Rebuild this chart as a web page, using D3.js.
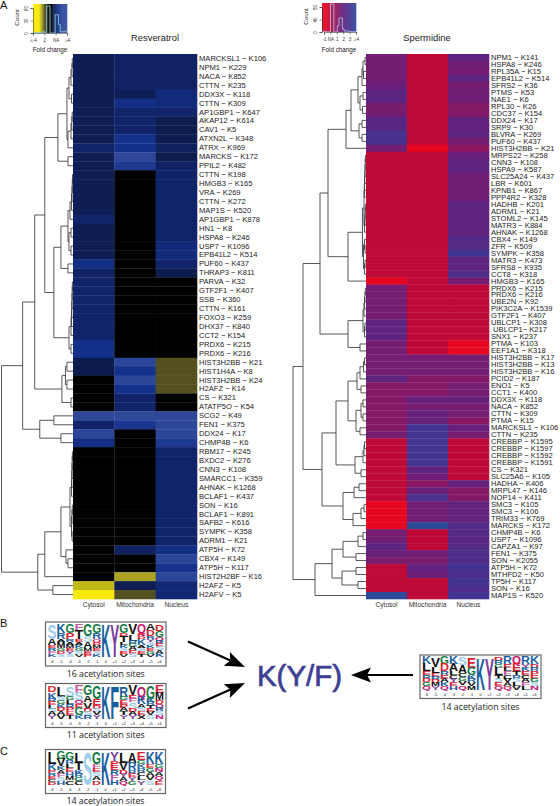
<!DOCTYPE html>
<html><head><meta charset="utf-8">
<script src="https://cdn.jsdelivr.net/npm/d3@7"></script>
<style>html,body{margin:0;padding:0;background:#fff}svg{display:block}text{font-family:"Liberation Sans",Arial,sans-serif}</style>
</head><body><div id="c"></div>
<script>
const columns=["Cytosol","Mitochondria","Nucleus"];
// ---- Resveratrol
const resLabels=["MARCKSL1 − K106","NPM1 − K229","NACA − K852","CTTN − K235","DDX3X − K118","CTTN − K309","AP1GBP1 − K647","AKAP12 − K614","CAV1 − K5","ATXN2L − K348","ATRX − K969","MARCKS − K172","PPIL2 − K482","CTTN − K198","HMGB3 − K165","VRA − K269","CTTN − K272","MAP1S − K520","AP1GBP1 − K878","HN1 − K8","HSPA8 − K246","USP7 − K1096","EPB41L2 − K514","PUF60 − K437","THRAP3 − K811","PARVA − K32","GTF2F1 − K407","SSB − K360","CTTN − K161","FOXO3 − K259","DHX37 − K840","CCT2 − K154","PRDX6 − K215","PRDX6 − K216","HIST3H2BB − K21","HIST1H4A − K8","HIST3H2BB − K24","H2AFZ − K14","CS − K321","ATATP5O − K54","SCG2 − K49","FEN1 − K375","DDX24 − K17","CHMP4B − K6","RBM17 − K245","BXDC2 − K276","CNN3 − K108","SMARCC1 − K359","AHNAK − K1268","BCLAF1 − K437","SON − K16","BCLAF1 − K891","SAFB2 − K616","SYMPK − K358","ADRM1 − K21","ATP5H − K72","CBX4 − K149","ATP5H − K117","HIST2H2BF − K16","H2AFZ − K5","H2AFV − K5"];
const resCytosol=[1.3,1.3,1.3,1.3,1.3,1.3,1.3,1.3,1.3,1.3,1.7,1.3,1.3,1.3,1.3,1.3,1.3,1.3,1.7,1.3,1.3,1.3,1.3,2.2,1.6,1.7,1.7,1.7,1.7,1.7,1.7,1.7,2.3,2.3,1.2,1.2,0,0,0,0,3.3,1.7,3,2.2,0,0,0,0,0,0,0,0,0,0,0,0,0,0,0,-3.3,-4];
const resMito=[1.6,1.6,1.6,1.6,1.3,2.2,1.7,1.7,1.7,2.3,2.3,3.2,2.6,0,0,0,0,0,0,0,0,0,0,0,0,0,0,0,0,0,0,0,0,0,3,2.3,3,2.3,1.7,1.7,3.3,2.5,0,0,0,0,0,0,0,0,0,0,0,0,0,1.6,0,0,-3,1.3,-2];
const resNucleus=[1.6,1.6,1.6,1.6,2,2,1.7,1.2,1.2,1.2,1.5,1.2,1.6,1.7,1.7,1.7,1.7,1.7,1.7,1.7,1.7,2,2,1.7,1.2,0,0,0,0,0,0,0,0,0,-2,-2,-2,-2,0,0,3.3,3.3,3,2.6,1.7,1.7,1.7,1.7,1.7,1.7,1.7,1.7,1.7,1.7,1.7,2.2,3,2.4,3,1.9,1.9];
// dendrogram: [merge height, left, right]; 0 is a leaf, in row order
const resTree=[71,[50,[38,[28,[15,[6,[4,[2,[1,[.7,0,0],0],0],[1.5,0,0]],[5,[2,[1.2,[.8,0,0],0],0],0]],[5,0,0]],[19,[12,[5,[3,[1.5,[1,[.7,[.5,0,0],0],0],0],0],[4,[2,0,0],[2,0,0]]],[5,0,0]],[4,[2,[1.5,[1.2,[1,[.8,[.6,0,0],0],0],0],0],0],[2,0,0]]]],[11,[7.5,[6,0,0],[6,0,0]],[2,0,0]]],[33,[19,0,0],[12,0,0]]],[35,[28,[12,[3,[1.5,[1.2,[1,[.8,[.6,0,0],0],0],0],0],[1.5,[1,[.7,0,0],0],[.9,0,0]]],[7,0,[5,0,0]]],0],[20,0,0]]];
const resHist=[1,1,1,1,1,1,4,1,65,65,0,0,0,44,44,20,3,3,3,5];
const resTicks=["≤-4","2","NA","2","≥4"];
const resCountTicks=[0,30,60];
// ---- Spermidine
const speLabels=["NPM1 − K141","HSPA8 − K246","RPL35A − K15","EPB41L2 − K514","SFRS2 − K36","PTMS − K53","NAE1 − K6","RPL30 − K26","CDC37 − K154","DDX24 − K17","SRP9 − K30","BLVRA − K269","PUF60 − K437","HIST3H2BB − K21","MRPS22 − K258","CNN3 − K108","HSPA9 − K587","SLC25A24 − K437","LBR − K601","KPNB1 − K867","PPP4R2 − K328","HADHB − K201","ADRM1 − K21","STOML2 − K145","MATR3 − K884","AHNAK − K1268","CBX4 − K149","ZFR − K509","SYMPK − K358","MATR3 − K473","SFRS8 − K935","CCT8 − K318","HMGB3 − K165","PRDX6 − K215","PRDX6 − K216","UBE2N − K92","PIK3C2A − K1539","GTF2F1 − K407","UBLCP1 − K308","\u00a0UBLCP1− K217","SNX1 − K237","PTMA − K103","EEF1A1 − K318","HIST3H2BB − K17","HIST3H2BB − K13","HIST3H2BB − K16","PCID2 − K187","ENO1 − K5","CCT1 − K400","DDX3X − K118","NACA − K852","CTTN − K309","PTMA − K15","MARCKSL1 − K106","CTTN − K235","CREBBP − K1595","CREBBP − K1597","CREBBP − K1592","CREBBP − K1591","CS − K321","SLC25A6 − K105","HADHA − K406","MRPL47 − K146","NOP14 − K411","SMC3 − K105","SMC3 − K106","TRIM33 − K769","MARCKS − K172","CHMP4B − K6","USP7 − K1096","CAPZA1 − K97","FEN1 − K375","SON − K2055","ATP5H − K72","MTHFD2 − K50","TP5H − K117","SON − K16","MAP1S − K520"];
const speCytosol=[1.5,1.5,1.5,1.5,1.7,2.1,2.1,1.4,1.5,2.2,2.2,2.8,2.8,1.5,0,0,0,0,0,0,0,0,0,0,0,0,0,0,0,0,0,0,-1,1.5,1.5,1.5,1.5,1.5,2,2,2,1.5,1.5,1.5,1.5,1.5,2,1.2,1.2,1.2,1.2,1.2,1.2,1.2,1.5,0,0,0,0,0,0,0,0,0,-1,-1,-1,-1,1.5,1.6,2.1,1.8,1.4,0,0,0,0,4];
const speMito=[0,0,0,0,0,0,0,0,0,0,0,0,0,-1,0,0,0,0,0,0,0,0,0,0,0,0,0,0,0,0,0,0,0,0,0,0,0,0,0,0,0,0,0,1.5,1.5,1.5,1.2,1.2,1.2,1.8,1.5,1.8,1.8,3,3,3,3,3,3,2,1.6,1.1,1.8,2.8,1.6,1.6,1.6,4,0,0,0,1.6,1.4,1.9,1.7,0,0,0];
const speNucleus=[2,1.6,1.5,2,1.5,1.6,1.6,1.2,1.2,1.9,1.9,2,1.5,1,1.7,2,2,1.6,1.6,1.6,1.6,2,2,2,2,2,2.4,2.4,3,2,2,2.6,1.5,0,0,0,0,0,0,0,0,-1,-1,1.5,1.5,1.5,1.2,1.5,1.5,1.8,1.5,1.5,1.1,1.8,1.5,0,0,0,0,0,0,1.8,1.2,1.2,1.9,1.9,1.9,2.4,2.4,2.2,2.4,2.6,2.6,3,2.7,3,2.7,3];
const speTree=[73,[63,[46,[38,[20,[15,[8,[4,[3,[1,0,0],[2.5,0,0]],0],[6,[3,0,0],[3.5,0,0]]],[7,[4,0,0],[4,0,0]]],0],[18,[3.5,[2,[1.7,[1.5,[1.2,[1,[.8,[.6,0,0],0],0],0],0],0],[1.5,[1,[.8,[.6,0,0],0],0],0]],[2.5,[1.5,0,[1,0,0]],[1.5,[1,0,0],0]]],0]],[18,[3,[2,[1.5,[1,[.7,0,0],0],0],0],[1.5,[1,0,0],0]],[6,0,0]]],[44,[30,[18,[9,[6,[2.5,[1.5,0,0],0],0],[5,0,0]],[10,[5,[3,0,0],[3,0,0]],[6,0,0]]],[11,[3,[2,[1.5,0,0],0],0],[5,0,0]]],[23,[12,[7,0,0],0],[13,[5,[2,0,0],0],0]]]],[51,[34,[23,[8,[3,0,0],0],[10,0,0]],[24,[10,0,0],[8,0,0]]],0]];
const speHist=[3,2,1,1,1,100,100,0,0,20,45,45,10,3,3,3,2,1,1,1];
const speTicks=["-1","NA","1","2","3","≥4"];
const speCountTicks=[0,40,80];
// ---- Sequence logos (letter + weight, top to bottom; f = blue F)
const logoB1=["S5 A2 E1 R1 F1 K1","K3 R2 A1 M2 G1 D1 S1","G3 P2 R1 A1 M1 E1 Y1 S1","F2 T3 E1 A1 K1 G1 S1 V1","G4 S2 A2 M1 E1 P1","G3 R2 Q1 D1 M1 E1 S1 K1","K1","Y1","G3 D1 T2 L1 K1 S1 E1 V1","V3 L2 R1 G1 A1 E1 S1","Q3 P1 D1 K2 A1 S1 E1 T1","A2 D2 R1 Y1 S1 K1 E1 G1 V1","D2 G2 Q1 R1 E1 S1 A1 K1"];
const logoB2=["D2 K2 R1 E1 L1 S1 A1 Y1","L3 S1 G1 K1 D1 A1 V1","S3 G1 L1 R1 P1 E1 T1","F2 S2 Q1 E1 G2 K1","G3 A2 V2 D1 S1 R1","G4 E2 D1 S1 V1 Y1","K1","f1","R3 G1 E1 P1 A1 T1 Y1","V3 E1 F1 S2 D1 A1 Y1","Q3 K2 A1 S1 E1 X1","G4 K1 R1 T1 E1 V1 S1","E2 M2 D1 Q1 R1 S1 N1"];
const logoC=["L4 K2 P1 R1 E1 C1 D1","G2 V2 K1 A1 F1 S1 H1","G2 R1 L1 E1 H1 M1 C1","L3 T2 K1 R1 G1 C1","S1","G3 F1 E1 S1 A1 D1","K1","Y2 P1 E1 R1 F1 H1","L3 V2 D1 Y1 A1 Q1","A3 R2 B1 E1 Y1 G1","E2 G1 K1 R1 C1 L1 Y1","K3 E1 G1 A1 V1 S1","K3 G1 N1 A1 Q1 E1"];
const logoR=["K2 L2 E1 R1 D1 G1 Q1","V3 L2 E1 R1 D1 M1 Y1","G2 D2 R1 E1 A1 K1 Q1","K2 A2 L1 C1 Y1 E1 H1","S2 A2 C1 G1 V1 Q1","E3 G2 K1 R1 V1 M1","K1","Y1","D1 R1 G1 L2 T1 S1 E1 Q1","R2 E1 L1 F1 C1 V1 A1 Q1","Q2 E2 T1 R1 S1 L1 V1","R2 Y1 K1 E1 C1 A1 F1 L1","K2 D1 R1 P1 E1 G1 S1 N1"];
const logoPositions=["-6","-5","-4","-3","-2","-1","0","+1","+2","+3","+4","+5","+6"];
const residueColors={K:"#1b5f9e",R:"#1b5f9e",H:"#1b5f9e",B:"#1b5f9e",f:"#1b5f9e",D:"#dc2230",E:"#dc2230",P:"#dc2230",G:"#117a42",S:"#9ccdec",T:"#111",Q:"#c8126e",N:"#c8126e",F:"#c65aa6",Y:"#7b3fa0",W:"#7b3fa0",A:"#111",V:"#111",L:"#111",I:"#111",M:"#111",C:"#111",X:"#111"};

const svg=d3.select("#c").append("svg").attr("width",560).attr("height",806).attr("viewBox","0 0 560 806");
svg.append("rect").attr("width",560).attr("height",806).attr("fill","#fff");
const yTop=54,yBottom=599;

function drawTree(tree,y,xh){
 const g=svg.append("g").attr("fill","none").attr("stroke","#3a3a3a").attr("stroke-width",.85);
 let i=0;
 (function walk(nd){
  if(nd===0){const p={x:xh(0),y:y(i)+y.bandwidth()/2};i++;return p;}
  const a=walk(nd[1]),b=walk(nd[2]),x=xh(nd[0]);
  g.append("path").attr("d",`M${a.x},${a.y}H${x}V${b.y}H${b.x}`);
  return {x:x,y:(a.y+b.y)/2};
 })(tree);
}
function heatmap(o){
 const y=d3.scaleBand().domain(d3.range(o.labels.length)).range([yTop,yBottom]);
 const x=d3.scaleBand().domain(columns).range([o.x0,o.x1]);
 o.series.forEach((vals,c)=>{
  svg.append("g").selectAll("rect").data(vals).join("rect")
   .attr("x",x(columns[c])).attr("width",x.bandwidth()+.3)
   .attr("y",(d,i)=>y(i)).attr("height",y.bandwidth()+.3)
   .attr("fill",d=>o.color(d));
 });
 const ax=svg.append("g").attr("transform",`translate(${o.x1-1},0)`)
   .call(d3.axisRight(y).tickSize(0).tickPadding(3).tickFormat(i=>o.labels[i]));
 ax.select(".domain").remove();
 ax.selectAll("text").attr("font-size",7.6).attr("fill","#222").style("font-family","'Liberation Sans'");
 const bx=svg.append("g").attr("transform",`translate(0,${yBottom})`)
   .call(d3.axisBottom(x).tickSize(0).tickPadding(3));
 bx.select(".domain").remove();
 bx.selectAll("text").attr("font-size",6.6).attr("fill","#333").style("font-family","'Liberation Sans'");
 svg.append("text").attr("x",o.titleX).attr("y",41).attr("text-anchor","middle").attr("font-size",9.4).attr("fill","#222").text(o.title);
 const xh=d3.scaleLinear().domain([0,o.treeMax]).range([o.x0,o.rootX]);
 drawTree(o.tree,y,xh);
}
function colorKey(o){
 const k=d3.scaleLinear().domain(o.fold).range([o.x0,o.x1]);
 const step=(o.fold[1]-o.fold[0])/68;
 svg.append("g").selectAll("rect").data(d3.range(o.fold[0],o.fold[1],step)).join("rect")
   .attr("x",d=>k(d)).attr("width",k(o.fold[0]+step)-k(o.fold[0])+.3).attr("y",o.y0).attr("height",o.y1-o.y0)
   .attr("fill",d=>o.color(o.keyValue(d)));
 const c=d3.scaleLinear().domain([0,o.countTicks[2]]).range([o.y1,o.y0+(o.y1-o.y0)*.14]);
 const bins=d3.scaleBand().domain(d3.range(o.hist.length)).range([o.x0,o.x1]);
 const pts=o.hist.map((v,i)=>[i,v]);pts.push([o.hist.length,o.hist[o.hist.length-1]]);
 const line2=d3.line().curve(d3.curveStepAfter).x(d=>d[0]===o.hist.length?o.x1:bins(d[0])).y(d=>c(Math.min(d[1],o.countTicks[2]*1.12)));
 svg.append("path").attr("d",line2(pts)).attr("fill","none").attr("stroke",o.histColor).attr("stroke-width",.9);
 const p=d3.scalePoint().domain(o.ticks).range([o.tx0,o.tx1]);
 const a=svg.append("g").attr("transform",`translate(0,${o.y1})`).call(d3.axisBottom(p).tickSize(2.5).tickPadding(3));
 a.select(".domain").attr("stroke","#222").attr("stroke-width",.5);
 a.selectAll("line").attr("stroke","#222").attr("stroke-width",.5);
 a.selectAll("text").attr("font-size",4.6).attr("fill","#333").style("font-family","'Liberation Sans'");
 const l=svg.append("g").attr("transform",`translate(${o.x0},0)`).call(d3.axisLeft(c).tickValues(o.countTicks).tickSize(2.5).tickPadding(1.5).tickFormat(d3.format("d")));
 l.select(".domain").attr("stroke","#222").attr("stroke-width",.5);
 l.selectAll("line").attr("stroke","#222").attr("stroke-width",.5);
 l.selectAll("text").attr("font-size",4.6).attr("fill","#333").style("font-family","'Liberation Sans'")
   .attr("x",null).attr("dy",null).attr("text-anchor","middle").attr("transform","translate(-5,0) rotate(-90)");
 svg.append("text").attr("transform",`translate(${o.x0-14.5},${(o.y0+o.y1)/2-1}) rotate(-90)`).attr("text-anchor","middle").attr("font-size",6.2).attr("fill","#222").text("Count");
 svg.append("text").attr("x",(o.x0+o.x1)/2).attr("y",52).attr("text-anchor","middle").attr("font-size",6.3).attr("fill","#222").text("Fold change");
}
const resColor=d3.scaleLinear().domain([-4,-3,-2,-.5,0,1.2,1.7,2.3,3,4]).range(["#f8ea06","#aaa222","#54501f","#0a0a05","#000","#0d1c4e","#11246a","#13308a","#2b4598","#354c9c"]).clamp(true);
const speColor=d3.scaleLinear().domain([-1,0,1,1.5,2,3,4]).range(["#e6061f","#bd0a38","#8e1660","#741d72","#5f2380","#443491","#2e4a9b"]).clamp(true);

heatmap({labels:resLabels,series:[resCytosol,resMito,resNucleus],x0:73,x1:197,color:resColor,title:"Resveratrol",titleX:155,tree:resTree,treeMax:71,rootX:1.5});
heatmap({labels:speLabels,series:[speCytosol,speMito,speNucleus],x0:366,x1:489,color:speColor,title:"Spermidine",titleX:427,tree:speTree,treeMax:73,rootX:293});
colorKey({x0:33,x1:67,y0:4,y1:33,fold:[-4,4],color:resColor,keyValue:d=>d<-.5?d*1.5:(d<.5?0:d*.9+.6),hist:resHist,histColor:"#7fc6d2",ticks:resTicks,tx0:33,tx1:67,countTicks:resCountTicks});
colorKey({x0:322,x1:356,y0:3,y1:32,fold:[-1.3,4],color:speColor,keyValue:d=>d,hist:speHist,histColor:"#a9b9df",ticks:speTicks,tx0:324,tx1:356,countTicks:speCountTicks});

[["A",0,9],["B",0,627],["C",0,755]].forEach(d=>svg.append("text").attr("x",d[1]).attr("y",d[2]).attr("font-size",11).attr("fill","#111").text(d[0]));

function logo(cols,bx,by,bw,bh,caption,capY){
 svg.append("rect").attr("x",bx).attr("y",by).attr("width",bw).attr("height",bh).attr("fill","#fff").attr("stroke","#666").attr("stroke-width",1.2);
 const X=d3.scaleBand().domain(d3.range(cols.length)).range([bx+2,bx+bw-2]);
 const H=bh-11;
 cols.forEach((s,i)=>{
  const toks=s.split(" ").map(t=>[t[0],+t.slice(1)]);
  const h=d3.scaleLinear().domain([0,d3.sum(toks,t=>t[1])]).range([0,H]);
  let acc=0;
  toks.forEach(t=>{
   const t0=by+2+h(acc),hh=h(t[1]);acc+=t[1];
   const txt=svg.append("text").attr("font-size",10).attr("font-weight",700).attr("fill",residueColors[t[0]]).text(t[0].toUpperCase());
   const w=txt.node().getComputedTextLength();
   txt.attr("transform",`translate(${X(i)},${t0+hh}) scale(${X.bandwidth()/w},${hh/7.2})`);
  });
  svg.append("text").attr("x",X(i)+X.bandwidth()/2).attr("y",by+bh-3).attr("text-anchor","middle").attr("font-size",3.8).attr("fill","#111").text(logoPositions[i]);
 });
 svg.append("text").attr("x",bx+bw/2).attr("y",capY).attr("text-anchor","middle").attr("font-size",8.8).attr("fill","#222").style("font-family","'Open Sans'").text(caption);
}
logo(logoB1,45.5,622,120.5,44,"16 acetylation sites",677);
logo(logoB2,45.5,683.5,120.5,44,"11 acetylation sites",737.5);
logo(logoC,45.5,749.5,120,44,"14 acetylation sites",804);
logo(logoR,420,655,121,43.5,"14 acetylation sites",710);

svg.append("text").attr("x",257).attr("y",686).attr("font-size",29).attr("fill","#3d3f94").attr("stroke","#3d3f94").attr("stroke-width",.7).attr("textLength",85).attr("lengthAdjust","spacingAndGlyphs").text("K(Y/F)");
function arrow(x1,y1,x2,y2){
 const a=Math.atan2(y2-y1,x2-x1),L=20,W=7.5,N=16;
 const pt=(d,o)=>[x2-d*Math.cos(a)-o*Math.sin(a),y2-d*Math.sin(a)+o*Math.cos(a)];
 const n=pt(N,0);
 svg.append("line").attr("x1",x1).attr("y1",y1).attr("x2",n[0]).attr("y2",n[1]).attr("stroke","#000").attr("stroke-width",2.2);
 svg.append("polygon").attr("points",[[x2,y2],pt(L,W),pt(N,0),pt(L,-W)].join(" ")).attr("fill","#000");
}
arrow(188,641.5,245,667);
arrow(188,708.5,245,683);
arrow(413,675,351,675);
</script></body></html>
